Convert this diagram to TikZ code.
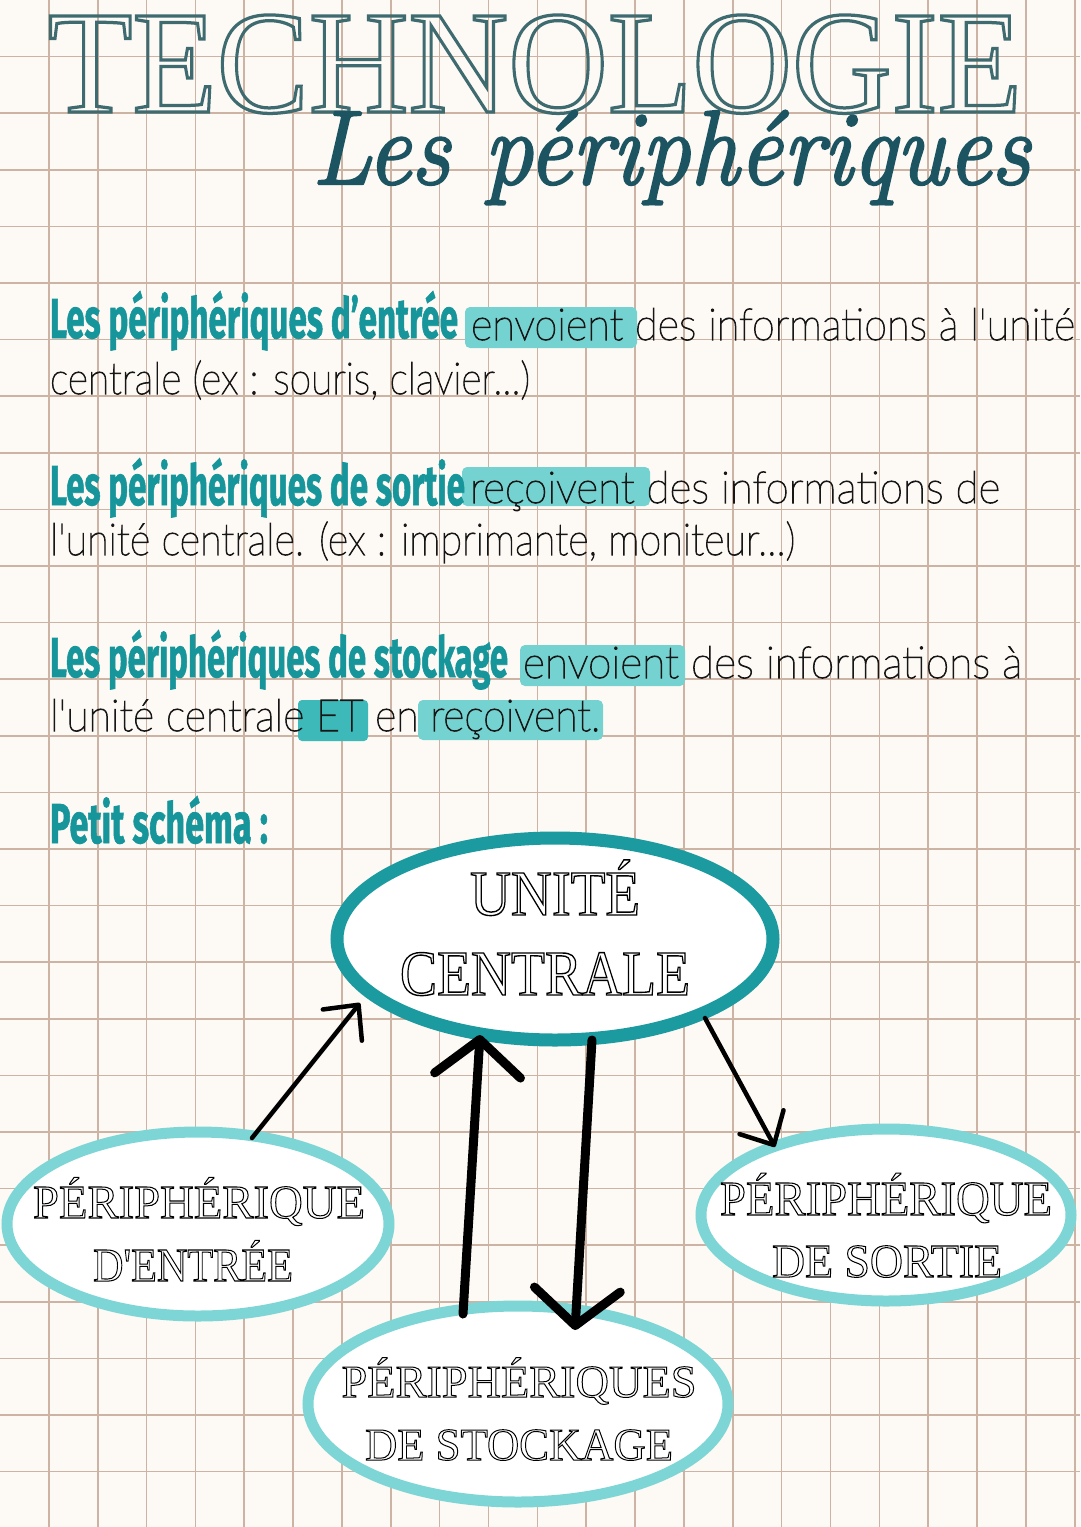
\documentclass[tikz,border=0pt]{standalone}
\usepackage{fontspec}
\usetikzlibrary{arrows.meta,shapes.geometric}
\newfontfamily\titlefont{Liberation Serif}
\newfontfamily\headfont{Fira Sans}
\newfontfamily\bodyfont{Lato Thin}
\definecolor{bg}{HTML}{FDF9F4}
\definecolor{gridc}{HTML}{CCB3A3}
\definecolor{titlec}{HTML}{3E6B70}
\definecolor{scriptc}{HTML}{1D5461}
\definecolor{headc}{HTML}{16969B}
\definecolor{hl}{HTML}{74D2D0}
\definecolor{hldark}{HTML}{3DB9B9}
\definecolor{ucring}{HTML}{1B9AA0}
\definecolor{ring}{HTML}{7DD6D5}
\definecolor{bodyc}{HTML}{161616}
\newcommand\fitcap[3]{\resizebox{#1}{#2}{\raisebox{0pt}[\fontcharht\font`I][0pt]{#3}}}
\newcommand\fitasc[3]{\resizebox{#1}{#2}{\raisebox{0pt}[\fontcharht\font`l][0pt]{#3}}}
\newcommand\outl[2]{\special{pdf:literal direct #1 w 1 Tr}#2\special{pdf:literal direct 0 Tr}}
\newcommand\heavy[2]{\special{pdf:literal direct #1 w 2 Tr}#2\special{pdf:literal direct 0 Tr}}
\begin{document}
\begin{tikzpicture}[x=1pt,y=-1pt,
  gridline/.style={draw=gridc,line width=1.6pt},
  hlbox/.style={fill=hl,rounded corners=5pt},
  plain/.style={inner sep=0pt,outer sep=0pt},
  head/.style={plain,anchor=base west,text=headc,font=\headfont\bfseries\fontsize{55}{60}\selectfont},
  body/.style={plain,anchor=base west,text=bodyc,font=\bodyfont\fontsize{38}{40}\selectfont},
  lbl/.style={plain,anchor=base,text=black,font=\titlefont\fontsize{55}{60}\selectfont},
  ringA/.style={ellipse,draw=ucring,line width=13pt,fill=white,inner sep=0pt},
  ringB/.style={ellipse,draw=ring,line width=11pt,fill=white,inner sep=0pt},
  arr/.style={draw=black,line width=4.5pt,line cap=round,-{Straight Barb[length=26pt,width=50pt,round]}},
  arrthick/.style={draw=black,line width=9pt,line cap=round,-{Straight Barb[length=36pt,width=86pt,round]}}
]
\useasboundingbox (0,0) rectangle (1080,1527);
\fill[bg] (0,0) rectangle (1080,1527);
\foreach \i in {1,...,22} \draw[gridline] (\i*48.85,0) -- (\i*48.85,1527);
\foreach \j in {1,...,26} \draw[gridline] (0,\j*56.6) -- (1080,\j*56.6);

% title
\node[plain,anchor=base west,text=titlec,font=\titlefont\fontsize{145}{150}\selectfont] (title) at (48,112)
  {\fitcap{974pt}{96pt}{\outl{3.2}{TECHNOLOGIE}}};
\node[plain,anchor=base west,text=scriptc,font=\fontsize{90}{95}\selectfont\itshape] (subtitle) at (312,184)
  {\fitasc{718pt}{72pt}{\heavy{2}{Les périphériques}}};

% highlights
\fill[hlbox] (465,307) rectangle (637,348);
\fill[hlbox] (462,467) rectangle (650,506);
\fill[hlbox] (520,645) rectangle (685,686);
\fill[hldark,rounded corners=4pt] (298,700) rectangle (368,741);
\fill[hlbox] (418,700) rectangle (603,740);

% texts
\node[head] (h1) at (50,338) {\fitcap{408pt}{39pt}{\heavy{0.8}{Les périphériques d’entrée}}};
\node[body] (b1) at (471,340) {\fitasc{604pt}{31pt}{\heavy{0.9}{envoient des informations à l'unité}}};
\node[body] (b2) at (50,394) {\fitasc{480pt}{31pt}{\heavy{0.9}{centrale (ex : souris, clavier...)}}};
\node[head] (h2) at (50,505) {\fitcap{415pt}{39pt}{\heavy{0.8}{Les périphériques de sortie}}};
\node[body] (b3) at (470,503) {\fitasc{530pt}{31pt}{\heavy{0.9}{reçoivent des informations de}}};
\node[body] (b4) at (50,555) {\fitasc{745pt}{31pt}{\heavy{0.9}{l'unité centrale. (ex : imprimante, moniteur...)}}};
\node[head] (h3) at (50,677) {\fitcap{458pt}{39pt}{\heavy{0.8}{Les périphériques de stockage}}};
\node[body] (b5) at (523,678) {\fitasc{499pt}{31pt}{\heavy{0.9}{envoient des informations à}}};
\node[body] (b6) at (50,731) {\fitasc{550pt}{31pt}{\heavy{0.9}{l'unité centrale ET en reçoivent.}}};
\node[head] (h4) at (50,843) {\fitcap{218pt}{39pt}{\heavy{0.8}{Petit schéma :}}};

% ellipses
\node[ringA,minimum width=436pt,minimum height=202pt] (uc) at (555,939) {};
\node[ringB,minimum width=382pt,minimum height=184pt] (entree) at (198,1224) {};
\node[ringB,minimum width=370pt,minimum height=172pt] (sortie) at (886,1215) {};
\node[ringB,minimum width=420pt,minimum height=196pt] (stock) at (518,1404) {};

\node[lbl] (ucA) at (555,915) {\fitcap{170pt}{42pt}{\outl{1.2}{UNITÉ}}};
\node[lbl] (ucB) at (545,995) {\fitcap{290pt}{42pt}{\outl{1.2}{CENTRALE}}};
\node[lbl] (enA) at (199,1218) {\fitcap{332pt}{31pt}{\outl{1.2}{PÉRIPHÉRIQUE}}};
\node[lbl] (enB) at (193,1281) {\fitcap{200pt}{31pt}{\outl{1.2}{D'ENTRÉE}}};
\node[lbl] (soA) at (886,1215) {\fitcap{332pt}{32pt}{\outl{1.2}{PÉRIPHÉRIQUE}}};
\node[lbl] (soB) at (887,1277) {\fitcap{230pt}{31pt}{\outl{1.2}{DE SORTIE}}};
\node[lbl] (stA) at (519,1397) {\fitcap{355pt}{30pt}{\outl{1.2}{PÉRIPHÉRIQUES}}};
\node[lbl] (stB) at (519,1460) {\fitcap{308pt}{30pt}{\outl{1.2}{DE STOCKAGE}}};

% arrows
\draw[arr] ([shift={(54,-86)}]entree.center) -- ([shift={(-195,64)}]uc.center);
\draw[arrthick] ([shift={(-55,-90)}]stock.center) -- ([shift={(-75,96)}]uc.center);
\draw[arrthick] ([shift={(37,101)}]uc.center) -- ([shift={(57,-74)}]stock.center);
\draw[arr] ([shift={(150,79)}]uc.center) -- ([shift={(-111,-68)}]sortie.center);
\end{tikzpicture}
\end{document}
